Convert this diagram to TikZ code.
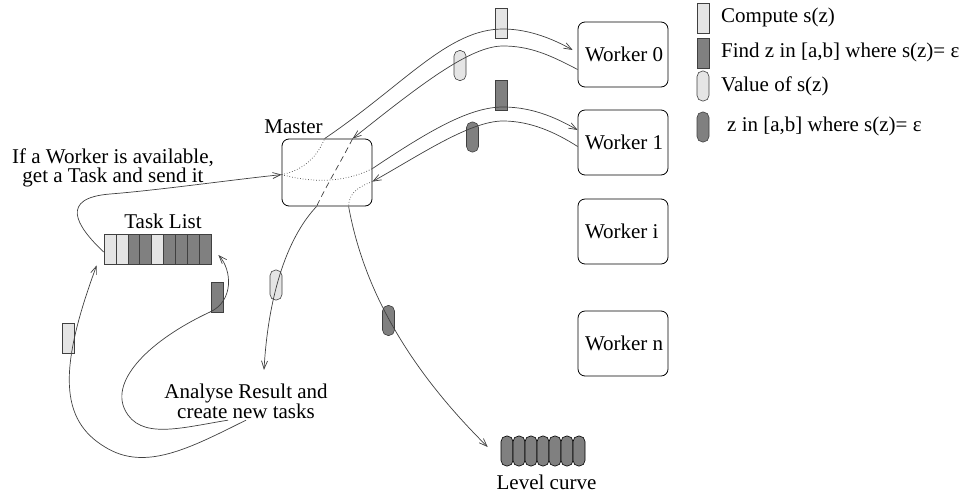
\documentclass[tikz,border=0pt]{standalone}
\usepackage{fontspec}
\setmainfont{Liberation Serif}
\usetikzlibrary{arrows.meta,calc}

\begin{document}
\begin{tikzpicture}[x=1pt,y=-1pt,
  font=\fontsize{21}{19}\selectfont,
  box/.style={draw=black, line width=0.8pt, rounded corners=7pt, minimum width=90pt, inner sep=0pt},
  workerbox/.style={box, minimum height=65pt},
  flow/.style={draw=black!75, line width=0.7pt},
  arr/.style={flow, -{Straight Barb[length=8pt,width=6pt]}},
  light/.style={fill=black!10},
  dark/.style={fill=black!50},
  taskrect/.style={draw=black!75, line width=0.6pt, minimum width=12pt, minimum height=30pt, inner sep=0pt},
  taskoval/.style={taskrect, rounded corners=5.5pt},
  cell/.style={draw=black!75, line width=0.6pt, minimum width=11.9pt, minimum height=30pt, inner sep=0pt},
  levelcell/.style={draw=black, line width=0.6pt, fill=black!50, rounded corners=5.5pt, minimum width=12pt, minimum height=30pt, inner sep=0pt},
  txt/.style={inner sep=0pt},
]
\useasboundingbox (0,0) rectangle (965,496);

% master and workers
\node[box, minimum height=67pt] (master) at (327,172.5) {};
\node[txt, anchor=base] (masterlbl) at (293.5,133) {Master};
\node[workerbox] (w0) at (623,54.5)  {\makebox[76pt][l]{Worker 0}};
\node[workerbox] (w1) at (623,142.5) {\makebox[76pt][l]{Worker 1}};
\node[workerbox] (wi) at (623,231.5) {\makebox[76pt][l]{Worker i}};
\node[workerbox] (wn) at (623,343.5) {\makebox[76pt][l]{Worker n}};

% legend
\node[taskrect, light] (lg1) at (703,18)  {};
\node[taskrect, dark]  (lg2) at (703,53)  {};
\node[taskoval, light] (lg3) at (703,86)  {};
\node[taskoval, dark]  (lg4) at (703,127) {};
\node[txt, anchor=base west] (lt1) at (721,22)  {Compute s(z)};
\node[txt, anchor=base west] (lt2) at (721,57)  {Find z in [a,b] where s(z)= ε};
\node[txt, anchor=base west] (lt3) at (721,91)  {Value of s(z)};
\node[txt, anchor=base west] (lt4) at (727,131) {z in [a,b] where s(z)= ε};

% task list
\foreach \i/\s in {1/light,2/light,3/dark,4/dark,5/light,6/dark,7/dark,8/dark,9/dark}
  \node[cell, \s] (t\i) at ({104+11.9*(\i-0.5)},249) {};
\node[txt, anchor=base] (tasklbl) at (163,228) {Task List};

% level curve
\foreach \i in {1,...,7}
  \node[levelcell] (l\i) at ({501+12*(\i-0.5)},451) {};
\node[txt, anchor=base] (levellbl) at (546.5,489) {Level curve};

% text labels
\node[txt, align=center] (ifw) at (113,168) {If a Worker is available,\\get a Task and send it};
\node[txt, align=center] (analyse) at (246,401.5) {Analyse Result and\\create new tasks};

% messages travelling on the connectors
\node[taskrect, light] (tokA) at (501,23.5)  {};
\node[taskoval, light] (tokB) at (460,65.5)  {};
\node[taskrect, dark]  (tokC) at (501,95)    {};
\node[taskoval, dark]  (tokD) at (472.5,137) {};
\node[taskrect, dark]  (tokE) at (217,297)   {};
\node[taskoval, light] (tokF) at (276,285)   {};
\node[taskrect, light] (tokG) at (68.5,338)  {};
\node[taskoval, dark]  (tokH) at (388.5,320.5) {};

% master <-> worker 0
\draw[arr] ($(master.north west)+(43,0)$) .. controls (405,84) and (448,29) .. (503,29)
  .. controls (530,29) and (555,40) .. ($(w0.west)+(-5,-4.5)$);
\draw[arr] ($(w0.west)+(0,15)$) .. controls (550,55) and (530,46) .. (503,46)
  .. controls (470,46) and (420,85) .. ($(master.north west)+(71,0)$);

% master <-> worker 1
\draw[arr] ($(master.north east)+(0,30)$) .. controls (430,130) and (470,107) .. (503,107)
  .. controls (535,107) and (560,120) .. ($(w1.west)+(0,-12.5)$);
\draw[arr] ($(w1.west)+(0,4)$) .. controls (555,132) and (530,121) .. (503,121)
  .. controls (470,121) and (420,155) .. ($(master.north east)+(0,43)$);

% routes through the master
\draw[flow, dotted] ($(master.north west)+(0,36)$) .. controls (305,170) and (318,155) .. ($(master.north west)+(43,0)$);
\draw[flow, dotted] ($(master.north west)+(0,36)$) .. controls (320,185) and (350,180) .. ($(master.north east)+(0,30)$);
\draw[flow, dash pattern=on 6pt off 4pt] ($(master.north west)+(71,0)$) .. controls (343,158) and (325,188) .. ($(master.south west)+(35,0)$);
\draw[flow, dotted] ($(master.north east)+(0,43)$) .. controls (355,188) and (349,195) .. ($(master.south west)+(67,0)$);

% results leaving the master
\draw[arr] ($(master.south west)+(35,0)$) .. controls (285,240) and (268,300) .. ($(analyse.north)+(18,-14)$);
\draw[arr] ($(master.south west)+(67,0)$) .. controls (362,280) and (400,360) .. ($(l1.west)+(-13,-4)$);

% task list -> master
\draw[arr] ($(t1.west)+(0,3)$) .. controls (75,225) and (60,198) .. (110,194)
  .. controls (160,190) and (230,180) .. ($(master.north west)+(0,36)$);

% new tasks back to the task list
\draw[arr] ($(analyse.south)+(0,1)$) .. controls (190,448) and (145,472) .. (105,447)
  .. controls (60,420) and (58,370) .. ($(t1.south west)+(-7,1)$);
\draw[arr] ($(analyse.south)+(-18,1)$) .. controls (180,428) and (140,440) .. (125,410)
  .. controls (110,380) and (150,340) .. (210,312)
  .. controls (234,301) and (232,270) .. ($(t9.east)+(7,6)$);
\end{tikzpicture}
\end{document}
